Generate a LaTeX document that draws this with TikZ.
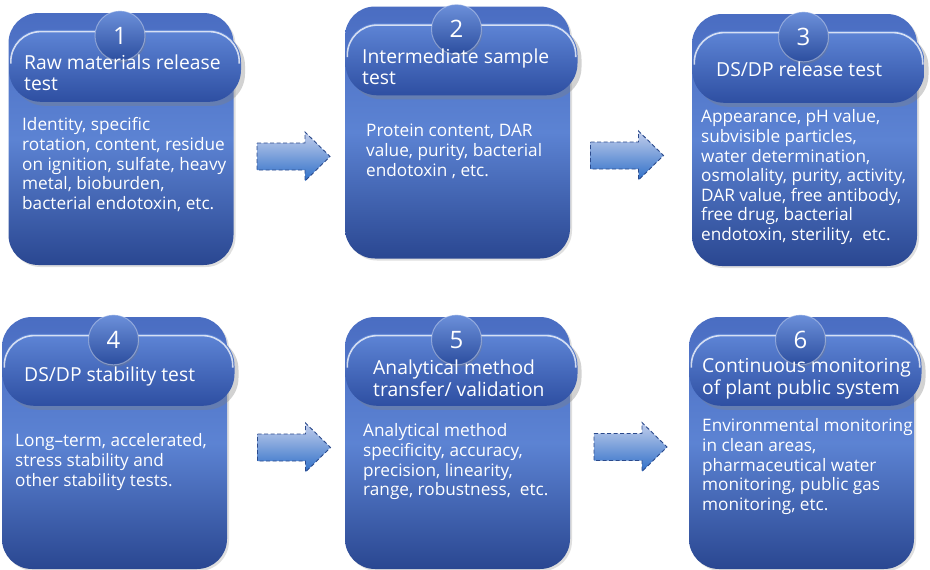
\documentclass[tikz,border=0pt]{standalone}
\usepackage{fontspec}
\setmainfont{Open Sans}
\usetikzlibrary{shadows}
\definecolor{boxtop}{HTML}{4A6DC2}
\definecolor{boxmid}{HTML}{5C83D3}
\definecolor{boxbot}{HTML}{2A4791}
\definecolor{pilltop}{HTML}{5E85D6}
\definecolor{pillbot}{HTML}{2E4FA2}
\definecolor{ctop}{HTML}{6C90DA}
\definecolor{cbot}{HTML}{2C4E9F}
\definecolor{arrtop}{HTML}{C3CFEC}
\definecolor{arrbot}{HTML}{2F6FC8}
\definecolor{arrline}{HTML}{2B4A8C}
\tikzset{
  stagebox/.style={rounded corners=30pt, minimum width=225pt, minimum height=252pt,
    inner sep=0pt, top color=boxtop, bottom color=boxbot, middle color=boxmid,
    drop shadow={shadow xshift=2pt, shadow yshift=-2pt, opacity=0.25}},
  pill/.style={rounded corners=32pt, inner sep=0pt, minimum height=72pt, minimum width=232pt,
    top color=pilltop, bottom color=pillbot,
    drop shadow={shadow xshift=4pt, shadow yshift=-4pt, opacity=0.35}},
  numball/.style={circle, minimum size=50pt, inner sep=0pt, top color=ctop, bottom color=cbot,
    draw=white, draw opacity=0.35, line width=1pt, text=white, font=\fontsize{24}{24}\selectfont,
    drop shadow={shadow xshift=1pt, shadow yshift=-2pt, opacity=0.3}},
  hdr/.style={anchor=north west, inner sep=0pt, align=left, text=white,
    font=\fontsize{19.3}{21}\selectfont},
  txt/.style={anchor=north west, inner sep=0pt, align=left, text=white,
    font=\fontsize{17.2}{19.6}\selectfont},
  blockarrow/.style={draw=arrline, dash pattern=on 4pt off 2.5pt,
    line width=0.9pt, top color=arrtop, bottom color=arrbot}
}
\newcommand{\stage}[4]{% name, center x, center y, number
  \node[stagebox] (#1) at (#2,#3) {};
  \node[pill] (#1p) at ([xshift=4pt,yshift=-53pt]#1.north) {};
  \draw[white, opacity=0.75, line width=1.6pt, rounded corners=30pt]
    ([xshift=2pt,yshift=-34pt]#1p.north west) -- ([xshift=2pt,yshift=-2pt]#1p.north west)
    -- ([xshift=-2pt,yshift=-2pt]#1p.north east) -- ([xshift=-2pt,yshift=-34pt]#1p.north east);
  \node[numball] (#1n) at ([xshift=-1pt,yshift=-23pt]#1.north) {#4};
}
\newcommand{\blockarrow}[3]{% name, center x, center y
  \coordinate (#1) at (#2,#3);
  \draw[blockarrow] ([shift={(-36.5,-13.5)}]#1) -- ([shift={(11.5,-13.5)}]#1)
    -- ([shift={(11.5,-24.5)}]#1) -- ([shift={(36.5,0)}]#1) -- ([shift={(11.5,24.5)}]#1)
    -- ([shift={(11.5,13.5)}]#1) -- ([shift={(-36.5,13.5)}]#1) -- cycle;
}
\begin{document}
\begin{tikzpicture}[x=1pt,y=-1pt]
\useasboundingbox (0,0) rectangle (930,570);
\fill[white] (0,0) rectangle (930,570);
\stage{b1}{121}{139}{1}
\stage{b2}{457.5}{132.5}{2}
\stage{b3}{804.5}{140}{3}
\stage{b4}{114.5}{443}{4}
\stage{b5}{457.5}{443}{5}
\stage{b6}{801.5}{443}{6}
% headers
\node[hdr] (h1) at (24,55) {\strut Raw materials release\\test};
\node[hdr] (h2) at (362,49) {\strut Intermediate sample\\test};
\node[hdr] (h3) at (716,62) {\strut DS/DP release test};
\node[hdr] (h4) at (24,367) {\strut DS/DP stability test};
\node[hdr] (h5) at (373,360) {\strut Analytical method\\transfer/ validation};
\node[hdr] (h6) at (702,358) {\strut Continuous monitoring\\of plant public system};
% bodies
\node[txt] (t1) at (22,117) {\strut Identity, specific\\rotation, content, residue\\on ignition, sulfate, heavy\\metal, bioburden,\\bacterial endotoxin, etc.};
\node[txt] (t2) at (366,123) {\strut Protein content, DAR\\value, purity, bacterial\\endotoxin , etc.};
\node[txt] (t3) at (701,109) {\strut Appearance, pH value,\\subvisible particles,\\water determination,\\osmolality, purity, activity,\\DAR value, free antibody,\\free drug, bacterial\\endotoxin, sterility,\ \ etc.};
\node[txt] (t4) at (15,433) {\strut Long–term, accelerated,\\stress stability and\\other stability tests.};
\node[txt] (t5) at (363,423) {\strut Analytical method\\specificity, accuracy,\\precision, linearity,\\range, robustness,\ \ etc.};
\node[txt] (t6) at (702,418) {\strut Environmental monitoring\\in clean areas,\\pharmaceutical water\\monitoring, public gas\\monitoring, etc.};
% arrows
\blockarrow{a12}{293.5}{156.5}
\blockarrow{a23}{627}{155.5}
\blockarrow{a45}{294}{447.5}
\blockarrow{a56}{630.5}{447}
\end{tikzpicture}
\end{document}
